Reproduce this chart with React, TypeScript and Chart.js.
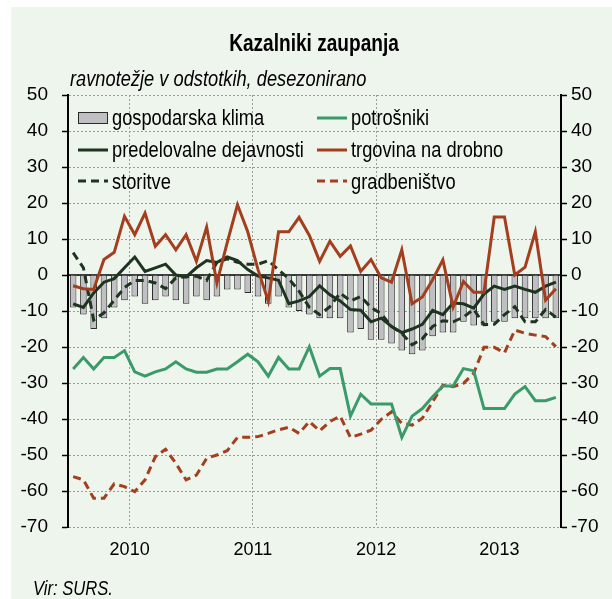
import React, { useEffect, useRef } from "react";
import { Chart, registerables } from "chart.js";
Chart.register(...registerables);

// Monthly data, Jan 2010 – Dec 2013
const yearLabels = ["2010", "2011", "2012", "2013"];
const yearTickPositions = [6, 18, 30, 42];
const yearBoundaries = [0, 12, 24, 36, 48];

const gospodarskaKlima = [
  -9, -11, -15, -12, -9, -7, -6, -8, -7, -6, -7, -8,
  -6, -7, -6, -4, -4, -5, -6, -8, -6, -9, -10, -11,
  -12, -12, -12, -16, -15, -18, -18, -19, -21, -22, -21, -17,
  -16, -16, -13, -14, -14, -13, -13, -12, -12, -12, -12, -12,
];
const predelovalne = [
  -8, -9, -5, -2, -1, 2, 5, 1, 2, 3, 0, -0.5,
  2, 4, 3.5, 5, 4, 1.5, -0.3, -0.8, -1.5, -8, -7.2, -6,
  -3, -5.5, -7.2, -9.6, -9.8, -13, -12, -14.3, -16, -15, -13.7, -9.8,
  -11, -7.8, -8, -9.2, -5.3, -3.1, -4, -3.1, -4, -4.8, -3.1, -2,
];
const storitve = [
  6.2, 2, -12.5, -10.5, -7, -3.5, -1.5, -1.5, -2.2, -3.8, -0.8, -0.5,
  -0.3, -1.5, 3.5, 4.5, 3.5, 3, 3, 4, 1.4, -1, -4.5, -9,
  -11, -8.8, -5, -7.2, -6, -9, -10.8, -14.3, -16.2, -19.4, -17.7, -14.3,
  -12.7, -13, -11.7, -9.5, -13.8, -13.7, -11, -8.8, -13, -13, -9.6, -11.7,
];
const potrosniki = [
  -26.1, -22.9, -26.1, -22.9, -22.9, -21, -26.9, -28.1, -26.9, -26.1, -24.1, -26.1,
  -27, -27, -26.1, -26.1, -24.1, -22, -24.1, -28.1, -22.9, -26.1, -26.1, -19.9,
  -28.1, -26, -26, -39.2, -33.1, -35.8, -35.8, -35.8, -45.1, -39.2, -37.1, -33.8,
  -30.8, -30.8, -26, -26.6, -37.1, -37.1, -37.1, -33.1, -31, -34.9, -34.9, -34,
];
const trgovina = [
  -3, -3.8, -4, 4.3, 6.3, 16.3, 11.2, 17.2, 8, 11.2, 7, 11.2,
  3.8, 13.3, -2.2, 9, 19.5, 12, 1.5, -7.3, 12, 12, 16, 11,
  3.8, 9.4, 5.2, 8.1, 1, 4.3, -0.8, -2, 7, -8, -6.1, -1.3,
  4.2, -8.9, -1.8, -4.8, -4.8, 16.1, 16.1, 0, 2.2, 12, -7, -3.8,
];
const gradbenistvo = [
  -56, -56.9, -62, -62, -58, -58.8, -60.2, -56.9, -50.5, -48.4, -52.3, -56.9,
  -55.6, -50.9, -50, -48.8, -45.1, -45.1, -44.9, -44, -43, -42.3, -44, -40.7,
  -43.3, -40.7, -39.2, -45.1, -44.2, -43.1, -40.1, -38, -41.2, -41.7, -39.8, -35.2,
  -30.6, -31, -30.1, -27.3, -20.1, -20.1, -21.6, -15.3, -16.2, -16.7, -17.1, -19.9,
];

const BG = "#eef5ec";
const GREEN = "#3b9a6a";
const DARK = "#1f3321";
const RED = "#a33e1f";
const BAR_FILL = "#bfbfc4";
const BAR_BORDER = "#2a2a2a";
const GRID = "#9c9c9c";
const FAMILY = '"Liberation Sans", Arial, sans-serif';
const NARROW = 0.83;

const toXY = (arr: number[]) => arr.map((v, i) => ({ x: i + 0.5, y: v }));

const bgPlugin = {
  id: "bg",
  beforeDraw(chart: any) {
    const { ctx, width, height } = chart;
    ctx.save();
    ctx.fillStyle = BG;
    ctx.fillRect(0, 0, width, height);
    ctx.restore();
  },
};

const zeroPlugin = {
  id: "zeroLine",
  beforeDatasetsDraw(chart: any) {
    const { ctx, chartArea } = chart;
    const y = chart.scales.y.getPixelForValue(0);
    ctx.save();
    ctx.strokeStyle = "#000";
    ctx.lineWidth = 1.5;
    ctx.beginPath();
    ctx.moveTo(chartArea.left, y);
    ctx.lineTo(chartArea.right, y);
    ctx.stroke();
    ctx.restore();
  },
};

function narrowText(ctx: CanvasRenderingContext2D, text: string, x: number, y: number, font: string, align: CanvasTextAlign) {
  ctx.save();
  ctx.font = font;
  ctx.textAlign = align;
  ctx.textBaseline = "alphabetic";
  ctx.fillStyle = "#000";
  ctx.translate(x, y);
  ctx.scale(NARROW, 1);
  ctx.fillText(text, 0, 0);
  ctx.restore();
}

const textPlugin = {
  id: "texts",
  afterDraw(chart: any) {
    const { ctx } = chart;
    ctx.save();
    narrowText(ctx, "Kazalniki zaupanja", 303, 44, `bold 23px ${FAMILY}`, "center");
    narrowText(ctx, "ravnotežje v odstotkih, desezonirano", 59, 79, `italic 22px ${FAMILY}`, "left");
    narrowText(ctx, "Vir: SURS.", 22, 588, `italic 20px ${FAMILY}`, "left");

    // legend
    const cols = [
      { sx: 67, tx: 101 },
      { sx: 306, tx: 340 },
    ];
    const rows = [
      { line: 111, base: 117.5 },
      { line: 143, base: 149.5 },
      { line: 174, base: 181.5 },
    ];
    const items = [
      { c: 0, r: 0, kind: "bar", label: "gospodarska klima" },
      { c: 0, r: 1, kind: "line", color: DARK, dash: [], label: "predelovalne dejavnosti" },
      { c: 0, r: 2, kind: "line", color: DARK, dash: [8, 5], label: "storitve" },
      { c: 1, r: 0, kind: "line", color: GREEN, dash: [], label: "potrošniki" },
      { c: 1, r: 1, kind: "line", color: RED, dash: [], label: "trgovina na drobno" },
      { c: 1, r: 2, kind: "line", color: RED, dash: [8, 5], label: "gradbeništvo" },
    ];
    for (const it of items) {
      const col = cols[it.c];
      const row = rows[it.r];
      if (it.kind === "bar") {
        ctx.fillStyle = BAR_FILL;
        ctx.fillRect(col.sx + 0.5, row.line - 5.5, 29, 11);
        ctx.strokeStyle = BAR_BORDER;
        ctx.lineWidth = 1;
        ctx.strokeRect(col.sx + 0.5, row.line - 5.5, 29, 11);
      } else {
        ctx.strokeStyle = it.color as string;
        ctx.lineWidth = 3;
        ctx.setLineDash(it.dash as number[]);
        ctx.beginPath();
        ctx.moveTo(col.sx, row.line);
        ctx.lineTo(col.sx + 30, row.line);
        ctx.stroke();
        ctx.setLineDash([]);
      }
      narrowText(ctx, it.label, col.tx, row.base, `22px ${FAMILY}`, "left");
    }
    ctx.restore();
  },
};

export default function App() {
  const ref = useRef<HTMLCanvasElement>(null);
  useEffect(() => {
    const canvas = ref.current;
    if (!canvas) return;
    const tickFont = { family: FAMILY, size: 19 };
    const lineDs = (label: string, data: number[], color: string, dash: number[], order: number) => ({
      type: "line" as const,
      label,
      data: toXY(data),
      borderColor: color,
      backgroundColor: color,
      borderWidth: 3,
      borderDash: dash,
      pointRadius: 0,
      tension: 0,
      fill: false,
      order,
      xAxisID: "x",
      yAxisID: "y",
    });
    const chart = new Chart(canvas, {
      type: "bar",
      data: {
        datasets: [
          lineDs("potrošniki", potrosniki, GREEN, [], 1),
          lineDs("trgovina na drobno", trgovina, RED, [], 2),
          lineDs("predelovalne dejavnosti", predelovalne, DARK, [], 3),
          lineDs("storitve", storitve, DARK, [8, 5], 4),
          lineDs("gradbeništvo", gradbenistvo, RED, [8, 5], 5),
          {
            type: "bar" as const,
            label: "gospodarska klima",
            data: toXY(gospodarskaKlima),
            backgroundColor: BAR_FILL,
            borderColor: BAR_BORDER,
            borderWidth: 1,
            barPercentage: 0.64,
            categoryPercentage: 1,
            order: 10,
            xAxisID: "x",
            yAxisID: "y",
          } as any,
        ],
      },
      options: {
        animation: false,
        responsive: false,
        maintainAspectRatio: false,
        layout: { padding: { top: 88, bottom: 0, left: 0, right: 0 } },
        plugins: {
          legend: { display: false },
          tooltip: { enabled: false },
          title: { display: false },
        },
        scales: {
          x: {
            type: "linear",
            position: "bottom",
            min: 0,
            max: 48,
            offset: false,
            afterBuildTicks: (s: any) => {
              s.ticks = yearBoundaries.map((v) => ({ value: v }));
            },
            ticks: { display: false },
            grid: {
              color: (c: any) =>
                c.tick && (c.tick.value === 0 || c.tick.value === 48) ? "rgba(0,0,0,0)" : GRID,
              lineWidth: 1,
              drawTicks: false,
            },
            border: { display: false, dash: [2, 2] },
            afterFit: (s: any) => {
              s.height = 0;
            },
          },
          years: {
            type: "linear",
            position: "bottom",
            min: 0,
            max: 48,
            offset: false,
            afterBuildTicks: (s: any) => {
              s.ticks = yearTickPositions.map((v) => ({ value: v }));
            },
            ticks: {
              callback: (v: any) => yearLabels[Math.round((Number(v) - 6) / 12)],
              font: { family: FAMILY, size: 18 },
              color: "#000",
              padding: 12,
              maxRotation: 0,
              autoSkip: false,
            },
            grid: { display: false, drawTicks: false },
            border: { display: false },
            afterFit: (s: any) => {
              s.height = 72;
            },
          },
          y: {
            position: "left",
            min: -70,
            max: 50,
            ticks: { stepSize: 10, font: tickFont, color: "#000", padding: 14 },
            grid: {
              color: GRID,
              lineWidth: 1,
              tickColor: "#000",
              tickLength: 6,
              tickWidth: 1.5,
              tickBorderDash: [],
            },
            border: { display: true, color: "#000", width: 2, dash: [2, 2] },
            afterFit: (s: any) => {
              s.width = 57;
            },
          },
          y2: {
            position: "right",
            min: -70,
            max: 50,
            ticks: { stepSize: 10, font: tickFont, color: "#000", padding: 4 },
            grid: {
              drawOnChartArea: false,
              tickColor: "#000",
              tickLength: 6,
              tickWidth: 1.5,
            },
            border: { display: true, color: "#000", width: 2 },
            afterFit: (s: any) => {
              s.width = 51;
            },
          },
        },
      } as any,
      plugins: [bgPlugin, zeroPlugin, textPlugin],
    });
    return () => chart.destroy();
  }, []);
  return (
    <div
      style={{
        position: "fixed",
        left: 11,
        top: 7,
        width: 601,
        height: 592,
        background: BG,
      }}
    >
      <canvas ref={ref} width={601} height={592} style={{ display: "block", width: 601, height: 592 }} />
    </div>
  );
}
